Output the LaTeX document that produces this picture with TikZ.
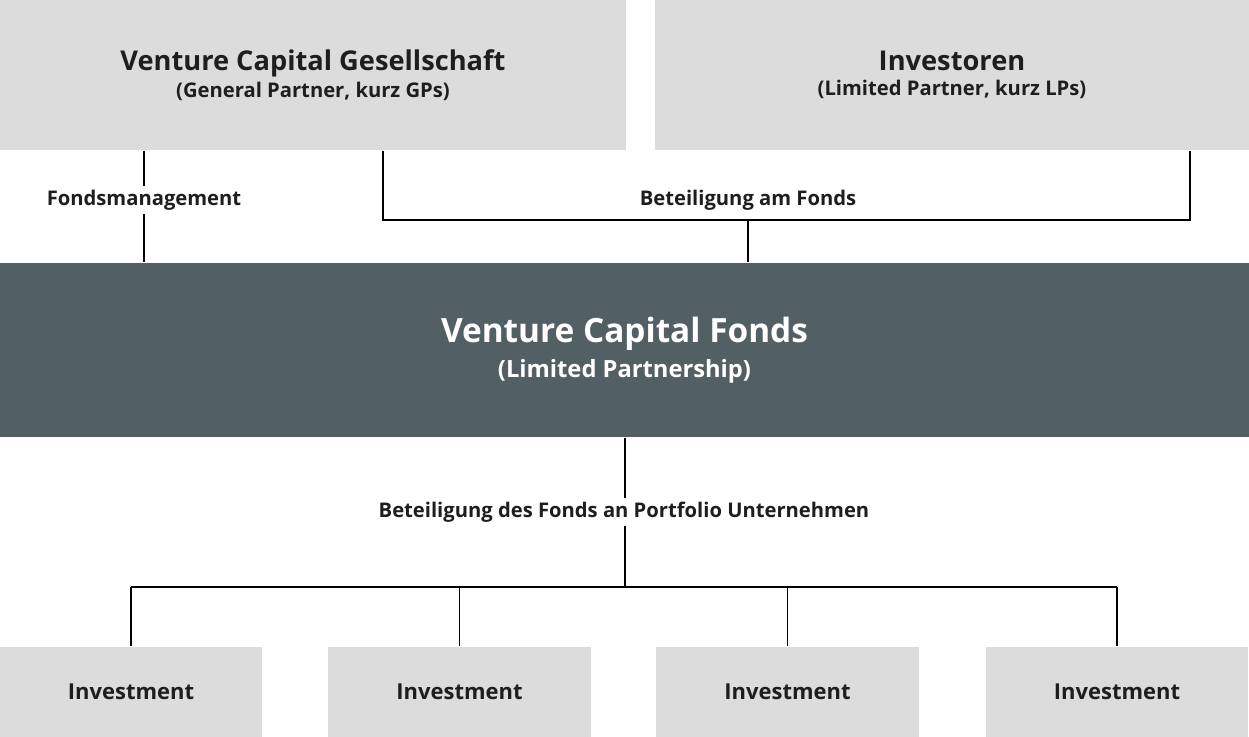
\documentclass[tikz,border=0pt]{standalone}
\usepackage{fontspec}
\setmainfont{Open Sans}
\usetikzlibrary{positioning}
\definecolor{cbox}{HTML}{DCDCDC}
\definecolor{cfonds}{HTML}{525F64}
\definecolor{ctext}{HTML}{1E1E1E}
\begin{document}
\begin{tikzpicture}[x=0.02cm,y=-0.02cm,thick,
  gray node/.style={fill=cbox,inner sep=0pt,text=ctext,font=\bfseries,align=center},
  fonds node/.style={fill=cfonds,inner sep=0pt,text=white,font=\bfseries,align=center},
  label node/.style={text=ctext,font=\bfseries\fontsize{11.5}{14}\selectfont,inner sep=2pt}]
  \useasboundingbox (0,0) rectangle (1249,737);
  \node[gray node,minimum width=12.52cm,minimum height=3cm] (gp) at (313,75)
    {{\fontsize{15.5}{22}\selectfont Venture Capital Gesellschaft}\\[2pt]{\fontsize{11.5}{14}\selectfont (General Partner, kurz GPs)}};
  \node[gray node,minimum width=11.88cm,minimum height=3cm] (lp) at (952,75)
    {{\fontsize{15.5}{22}\selectfont Investoren}\\[2pt]{\fontsize{11.5}{14}\selectfont (Limited Partner, kurz LPs)}};
  \node[fonds node,minimum width=24.98cm,minimum height=3.48cm] (fonds) at (624.5,350)
    {{\fontsize{19}{26}\selectfont Venture Capital Fonds}\\[4pt]{\fontsize{13.5}{16}\selectfont (Limited Partnership)}};
  \foreach \i/\x in {1/131,2/459.5,3/787.5,4/1117}
    \node[gray node,minimum width=5.26cm,minimum height=1.8cm,font=\bfseries\fontsize{12.5}{15}\selectfont] (inv\i) at (\x,692) {Investment};

  \node[label node] (fm) at (144,200) {Fondsmanagement};
  \node[label node] (bf) at (748,200) {Beteiligung am Fonds};
  \node[label node] (bp) at (624,512) {Beteiligung des Fonds an Portfolio Unternehmen};

  \coordinate (gpl) at (383,220);
  \coordinate (lpl) at (1190,220);
  \coordinate (bfl) at (748,220);
  \coordinate (bus) at (625,587);

  \draw (gp.south -| fm) -- (fm.north);
  \draw (fm.south) -- (fm |- fonds.north);
  \draw (gp.south -| gpl) -- (gpl) -- (lpl) -- (lp.south -| lpl);
  \draw (bfl) -- (fonds.north -| bfl);
  \draw (fonds.south -| bus) -- (bp.north -| bus);
  \draw (bp.south -| bus) -- (bus);
  \draw (inv1 |- bus) -- (inv4 |- bus);
  \foreach \i in {1,...,4}
    \draw (inv\i |- bus) -- (inv\i.north);
\end{tikzpicture}
\end{document}
